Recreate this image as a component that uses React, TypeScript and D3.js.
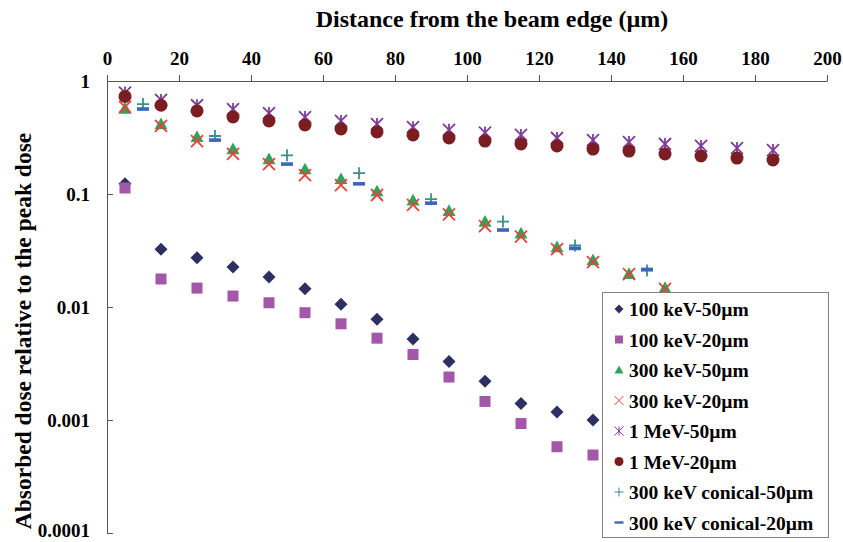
import React, { useEffect, useRef } from 'react';
import * as d3 from 'd3';

// distances (um)
const xMain = [5, 15, 25, 35, 45, 55, 65, 75, 85, 95, 105, 115, 125, 135, 145, 155, 165, 175, 185];
const xConical = [10, 30, 50, 70, 90, 110, 130, 150];

// relative dose
const kev100_50 = [0.123, 0.0325, 0.0273, 0.0226, 0.0184, 0.0145, 0.0106, 0.0078, 0.0052, 0.0033, 0.0022, 0.0014, 0.00118, 0.001];
const kev100_20 = [0.113, 0.0177, 0.0147, 0.0125, 0.0109, 0.0089, 0.0071, 0.0053, 0.0038, 0.0024, 0.00146, 0.00093, 0.00058, 0.00049];
const kev300_50 = [0.57, 0.416, 0.32, 0.25, 0.204, 0.166, 0.136, 0.106, 0.088, 0.071, 0.057, 0.045, 0.034, 0.026, 0.0197, 0.0148];
const kev300_20 = [0.59, 0.4, 0.294, 0.226, 0.184, 0.147, 0.12, 0.098, 0.08, 0.066, 0.052, 0.042, 0.0325, 0.025, 0.0195, 0.0145];
const mev1_50 = [0.79, 0.68, 0.61, 0.565, 0.52, 0.48, 0.443, 0.416, 0.39, 0.37, 0.35, 0.333, 0.313, 0.3, 0.288, 0.277, 0.266, 0.255, 0.245];
const mev1_20 = [0.73, 0.61, 0.543, 0.48, 0.443, 0.408, 0.376, 0.354, 0.333, 0.313, 0.294, 0.277, 0.266, 0.25, 0.24, 0.226, 0.217, 0.208, 0.2];
const con300_50 = [0.625, 0.326, 0.22, 0.153, 0.09, 0.057, 0.035, 0.021];
const con300_20 = [0.565, 0.3, 0.184, 0.123, 0.083, 0.048, 0.033, 0.0215];

const xTicks = [0, 20, 40, 60, 80, 100, 120, 140, 160, 180, 200];
const yTicks = [1, 0.1, 0.01, 0.001, 0.0001];

const series = [
  { name: '100 keV-50\u00b5m', xs: xMain, ys: kev100_50, shape: 'diamond', color: '#2d2f63' },
  { name: '100 keV-20\u00b5m', xs: xMain, ys: kev100_20, shape: 'square', color: '#a257a8' },
  { name: '300 keV-50\u00b5m', xs: xMain, ys: kev300_50, shape: 'triangle', color: '#2ea55a' },
  { name: '300 keV-20\u00b5m', xs: xMain, ys: kev300_20, shape: 'cross', color: '#e8413c' },
  { name: '1 MeV-50\u00b5m', xs: xMain, ys: mev1_50, shape: 'star', color: '#7e3c9a' },
  { name: '1 MeV-20\u00b5m', xs: xMain, ys: mev1_20, shape: 'circle', color: '#7a1e22' },
  { name: '300 keV conical-50\u00b5m', xs: xConical, ys: con300_50, shape: 'plus', color: '#3b8e8e' },
  { name: '300 keV conical-20\u00b5m', xs: xConical, ys: con300_20, shape: 'minus', color: '#3a68b4' },
];

const FONT = '"Liberation Serif", "Times New Roman", serif';

function drawMarker(g: any, shape: string, color: string, s: number, sw: number) {
  // s = half size
  if (shape === 'diamond') {
    g.append('path').attr('d', `M0,${-s}L${s},0L0,${s}L${-s},0Z`).attr('fill', color);
  } else if (shape === 'square') {
    g.append('rect').attr('x', -s).attr('y', -s).attr('width', 2 * s).attr('height', 2 * s).attr('fill', color);
  } else if (shape === 'triangle') {
    g.append('path').attr('d', `M0,${-s}L${s},${s * 0.8}L${-s},${s * 0.8}Z`).attr('fill', color);
  } else if (shape === 'circle') {
    g.append('circle').attr('r', s).attr('fill', color);
  } else if (shape === 'cross') {
    g.append('path').attr('d', `M${-s},${-s}L${s},${s}M${-s},${s}L${s},${-s}`)
      .attr('stroke', color).attr('stroke-width', sw).attr('fill', 'none');
  } else if (shape === 'star') {
    g.append('path').attr('d', `M${-s},${-s}L${s},${s}M${-s},${s}L${s},${-s}M0,${-s}L0,${s}`)
      .attr('stroke', color).attr('stroke-width', sw).attr('fill', 'none');
  } else if (shape === 'plus') {
    g.append('path').attr('d', `M${-s},0L${s},0M0,${-s}L0,${s}`)
      .attr('stroke', color).attr('stroke-width', sw).attr('fill', 'none');
  } else if (shape === 'minus') {
    g.append('rect').attr('x', -s).attr('y', -sw).attr('width', 2 * s).attr('height', 2 * sw).attr('fill', color);
  }
}

const App = () => {
  const ref = useRef<SVGSVGElement>(null);

  useEffect(() => {
    const svg = d3.select(ref.current);
    svg.selectAll('*').remove();

    const left = 107, right = 827, top = 81, bottom = 533;

    const x = d3.scaleLinear().domain([0, 200]).range([left, right]);
    const y = d3.scaleLog().domain([0.0001, 1]).range([bottom, top]);

    // top axis
    const xAxis = svg.append('g')
      .attr('transform', `translate(0,${top})`)
      .call(d3.axisTop(x).tickValues(xTicks).tickSizeInner(6).tickSizeOuter(0).tickPadding(10).tickFormat(d3.format('d')));
    xAxis.selectAll('path,line').attr('stroke', '#555');
    xAxis.selectAll('text').attr('font-family', FONT).attr('font-size', 19).attr('font-weight', 'bold').attr('fill', '#000');

    // left axis, ticks pointing inward
    const yAxis = svg.append('g')
      .attr('transform', `translate(${left},0)`)
      .call(d3.axisLeft(y).tickValues(yTicks).tickSizeInner(-6).tickSizeOuter(0).tickPadding(17).tickFormat((d: any) => String(d)));
    yAxis.selectAll('path,line').attr('stroke', '#555');
    yAxis.selectAll('text').attr('font-family', FONT).attr('font-size', 19).attr('font-weight', 'bold').attr('fill', '#000');
    // keep the lowest label inside the picture
    yAxis.selectAll('.tick').filter((d: any) => d === 0.0001).select('text').attr('dy', '0.2em');

    // titles
    svg.append('text')
      .attr('x', 492).attr('y', 27)
      .attr('text-anchor', 'middle')
      .attr('font-family', FONT).attr('font-size', 24).attr('font-weight', 'bold')
      .text('Distance from the beam edge (\u00b5m)');

    svg.append('text')
      .attr('transform', 'translate(31,331) rotate(-90)')
      .attr('text-anchor', 'middle')
      .attr('font-family', FONT).attr('font-size', 23.5).attr('font-weight', 'bold')
      .text('Absorbed dose relative to the peak dose');

    // points
    const sizes: Record<string, number> = {
      diamond: 6.5, square: 5.5, triangle: 6.5, cross: 6, star: 6, circle: 6.5, plus: 6, minus: 6,
    };
    series.forEach(s => {
      const g = svg.append('g');
      s.ys.forEach((v, i) => {
        const m = g.append('g').attr('transform', `translate(${x(s.xs[i])},${y(v)})`);
        drawMarker(m, s.shape, s.color, sizes[s.shape], 1.8);
      });
    });

    // legend
    const lg = svg.append('g');
    lg.append('rect')
      .attr('x', 602.5).attr('y', 292.5).attr('width', 226).attr('height', 245)
      .attr('fill', '#fff').attr('stroke', '#808080');
    const ls: Record<string, number> = {
      diamond: 4.5, square: 4, triangle: 4.5, cross: 4.5, star: 4.5, circle: 4.5, plus: 4.5, minus: 4.5,
    };
    series.forEach((s, i) => {
      const cy = 309 + i * 30.5;
      const m = lg.append('g').attr('transform', `translate(619,${cy})`);
      drawMarker(m, s.shape, s.color, ls[s.shape], s.shape === 'minus' ? 1.2 : 1);
      lg.append('text')
        .attr('x', 629).attr('y', cy + 7)
        .attr('font-family', FONT).attr('font-size', 19.5).attr('font-weight', 'bold')
        .text(s.name);
    });
  }, []);

  return (
    <svg ref={ref} width={843} height={542}
      style={{ position: 'absolute', left: 0, top: 0, background: '#fff' }} />
  );
};

export default App;
